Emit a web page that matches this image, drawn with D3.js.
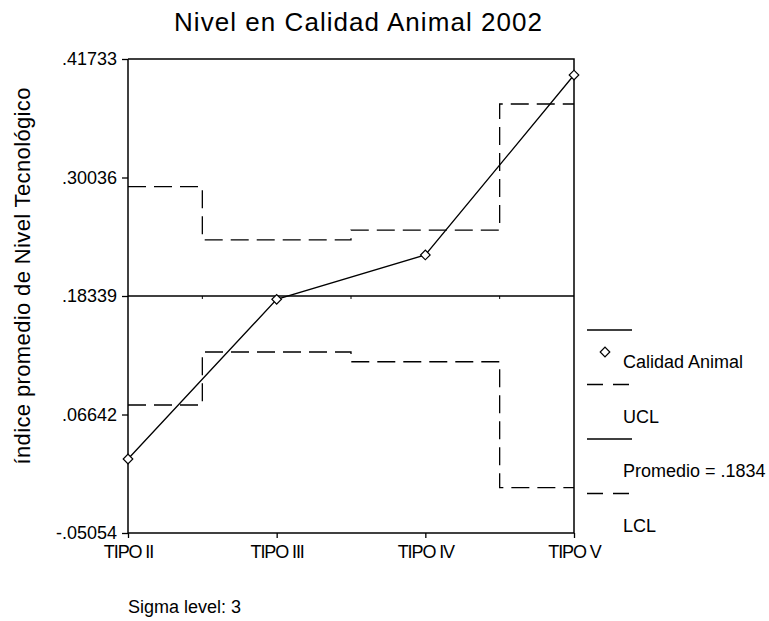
<!DOCTYPE html>
<html>
<head>
<meta charset="utf-8">
<script src="https://cdn.jsdelivr.net/npm/d3@7"></script>
<style>
  body { margin: 0; background: #fff; }
  svg { display: block; font-family: "Liberation Sans", Arial, sans-serif; }
</style>
</head>
<body>
<svg id="chart"></svg>
<script>
// data
const categories = ["TIPO II", "TIPO III", "TIPO IV", "TIPO V"];
const calidad = [0.0225, 0.1801, 0.2239, 0.4015];
const ucl = [0.2913, 0.2387, 0.2485, 0.3729];
const lcl = [0.0758, 0.1281, 0.1185, -0.0058];
const promedio = 0.1834;
const yTicks = [-0.05054, 0.06642, 0.18339, 0.30036, 0.41733];
const legendLabels = ["Calidad Animal", "UCL", "Promedio = .1834", "LCL"];

const width = 769, height = 621;
const plotLeft = 128, plotRight = 574, plotTop = 59, plotBottom = 533;

const svg = d3.select("#chart")
    .attr("width", width)
    .attr("height", height)
    .style("background-color", "white");

const x = d3.scalePoint().domain(categories).range([plotLeft, plotRight]);
const y = d3.scaleLinear().domain([yTicks[0], yTicks[yTicks.length - 1]]).range([plotBottom, plotTop]);

// .41733 style, plain hyphen for negatives
const fmt = d => d3.format(".5f")(d).replace("0.", ".").replace("\u2212", "-");

// axes
const yAxis = d3.axisLeft(y).tickValues(yTicks).tickFormat(fmt).tickSize(6).tickPadding(5);
const xAxis = d3.axisBottom(x).tickSize(5).tickPadding(7);

const gy = svg.append("g").attr("transform", `translate(${plotLeft},0)`).call(yAxis);
const gx = svg.append("g").attr("transform", `translate(0,${plotBottom})`).call(xAxis);
[gy, gx].forEach(g => {
    g.select(".domain").attr("stroke", "#000").attr("stroke-width", 1.5);
    g.selectAll(".tick line").attr("stroke", "#000").attr("stroke-width", 1.3);
    g.selectAll(".tick text").attr("fill", "#000").style("font-size", "18px");
});
gy.select(".domain").attr("d", `M0,${plotBottom}V${plotTop}`);
gx.select(".domain").attr("d", `M${plotLeft},0H${plotRight}`);
gx.selectAll(".tick text").style("letter-spacing", "-1.1px");

// frame top and right
svg.append("path")
    .attr("d", `M${plotLeft},${plotTop}H${plotRight}V${plotBottom}`)
    .attr("fill", "none").attr("stroke", "#000").attr("stroke-width", 1.5);

// mean line
svg.append("line")
    .attr("x1", plotLeft).attr("x2", plotRight)
    .attr("y1", y(promedio)).attr("y2", y(promedio))
    .attr("stroke", "#000").attr("stroke-width", 1.3);
const mids = d3.pairs(categories).map(([a, b]) => (x(a) + x(b)) / 2);
svg.selectAll(".midtick").data(mids).enter().append("line")
    .attr("x1", d => d).attr("x2", d => d)
    .attr("y1", y(promedio)).attr("y2", y(promedio) + 3)
    .attr("stroke", "#000").attr("stroke-width", 1);

// control limits
const step = d3.line()
    .x((d, i) => x(categories[i]))
    .y(d => y(d))
    .curve(d3.curveStep);
[ucl, lcl].forEach(arr => {
    svg.append("path")
        .attr("d", step(arr))
        .attr("fill", "none")
        .attr("stroke", "#000")
        .attr("stroke-width", 1.3)
        .attr("stroke-dasharray", "18,8");
});

// series
const line = d3.line().x((d, i) => x(categories[i])).y(d => y(d));
svg.append("path")
    .attr("d", line(calidad))
    .attr("fill", "none").attr("stroke", "#000").attr("stroke-width", 1.3);

const diamond = d3.symbol().type(d3.symbolSquare).size(46);
svg.selectAll(".pt").data(calidad).enter().append("path")
    .attr("d", diamond)
    .attr("transform", (d, i) => `translate(${x(categories[i])},${y(d)}) rotate(45)`)
    .attr("fill", "white").attr("stroke", "#000").attr("stroke-width", 1.2);

// titles
svg.append("text")
    .attr("x", 358).attr("y", 31)
    .attr("text-anchor", "middle")
    .attr("textLength", 368).attr("lengthAdjust", "spacing")
    .style("font-size", "26px")
    .text("Nivel en Calidad Animal 2002");

svg.append("text")
    .attr("transform", "translate(30,276) rotate(-90)")
    .attr("text-anchor", "middle")
    .attr("textLength", 377).attr("lengthAdjust", "spacing")
    .style("font-size", "22px")
    .text("índice promedio de Nivel Tecnológico");

svg.append("text")
    .attr("x", 128).attr("y", 613)
    .style("font-size", "18px")
    .text("Sigma level: 3");

// legend
const lx1 = 587, lx2 = 632, ly0 = 330, lstep = 54.5;
const legendDash = [null, "16,10", null, "16,10"];
legendLabels.forEach((lab, i) => {
    const ly = ly0 + i * lstep;
    svg.append("line")
        .attr("x1", lx1).attr("x2", lx2).attr("y1", ly).attr("y2", ly)
        .attr("stroke", "#000").attr("stroke-width", 1.3)
        .attr("stroke-dasharray", legendDash[i]);
    svg.append("text")
        .attr("x", 623).attr("y", ly + 38)
        .style("font-size", "18px")
        .text(lab);
});
svg.append("path")
    .attr("d", diamond)
    .attr("transform", `translate(605,352) rotate(45)`)
    .attr("fill", "white").attr("stroke", "#000").attr("stroke-width", 1.2);
</script>
</body>
</html>
